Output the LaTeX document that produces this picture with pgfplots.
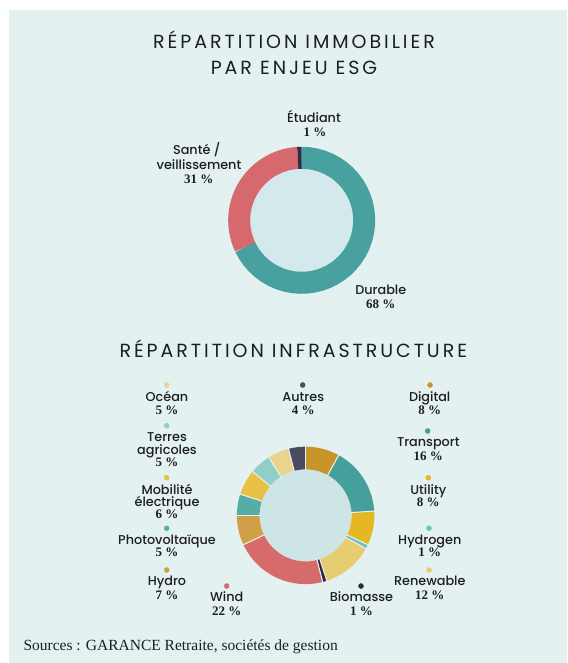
\documentclass[border=0pt]{standalone}
\usepackage{pgfplots}
\pgfplotsset{compat=1.18}
\usepackage{fontspec}
\setmainfont{Poppins}
\IfFontExistsTF{Poppins Medium}{\newfontfamily\labfam{Poppins Medium}}{\newfontfamily\labfam{Poppins}}
\newfontfamily\titfam[LetterSpace=15.5]{Poppins}
\newfontfamily\serfam{Liberation Serif}

\definecolor{bg}{HTML}{E3F1F0}
\definecolor{holeA}{HTML}{D4E9EB}
\definecolor{holeB}{HTML}{CEE5E6}
\definecolor{txt}{HTML}{1E1E1E}
\definecolor{sepc}{HTML}{EEF3EC}
% top donut
\definecolor{cDurable}{HTML}{48A19E}
\definecolor{cSante}{HTML}{D5696D}
\definecolor{cEtud}{HTML}{2E2E4C}
% bottom donut
\definecolor{cDigital}{HTML}{C8952B}
\definecolor{cTransport}{HTML}{45A09C}
\definecolor{cUtility}{HTML}{E5B722}
\definecolor{cHydrogen}{HTML}{6CC3BF}
\definecolor{cRenewable}{HTML}{E8CD70}
\definecolor{cBiomasse}{HTML}{2A2A48}
\definecolor{cWind}{HTML}{D76B6C}
\definecolor{cHydro}{HTML}{CFA048}
\definecolor{cPhoto}{HTML}{56ACA7}
\definecolor{cMobil}{HTML}{E8C043}
\definecolor{cTerres}{HTML}{8FCFC8}
\definecolor{cOcean}{HTML}{E8D38F}
\definecolor{cAutres}{HTML}{4B4B5F}

\newcommand\labfont{\labfam\fontsize{12.8}{14}\selectfont}
\newcommand\pctfont{\serfam\bfseries\fontsize{13}{14}\selectfont}
\newcommand\titfont{\titfam\fontsize{19}{24}\selectfont}
\newcommand\lab[3]{\node[anchor=base,font=\labfont,text=txt,inner sep=0pt] at (axis cs:#1,#2) {#3};}
\newcommand\pct[3]{\node[anchor=base,font=\pctfont,text=txt,inner sep=0pt] at (axis cs:#1,#2) {#3};}
\newcommand\mdot[3]{\addplot[only marks,mark=*,mark size=2.5pt,color=#3] coordinates {(#1,#2)};}

% donut drawing: center x, center y, inner r, outer r, list value/color
\newcommand\donut[5]{%
  \pgfmathsetmacro\Rm{(#3+#4)/2}%
  \pgfmathsetmacro\Rw{#4-#3}%
  \gdef\cum{0}%
  \foreach \v/\c in {#5}{%
    \pgfmathsetmacro\aa{90-3.6*\cum}%
    \pgfmathsetmacro\bb{90-3.6*(\cum+\v)}%
    \edef\doplot{\noexpand\addplot[line width=\Rw pt, color=\c, domain=\bb:\aa, samples=40, variable=\noexpand\t]
      ({#1+\Rm*cos(\noexpand\t)},{#2-\Rm*sin(\noexpand\t)});}%
    \doplot
    \pgfmathsetmacro\newcum{\cum+\v}%
    \xdef\cum{\newcum}%
  }%
}
\newcommand\seps[5]{%
  \gdef\cum{0}%
  \foreach \v in {#5}{%
    \pgfmathsetmacro\aa{90-3.6*\cum}%
    \pgfmathsetmacro\xa{#1+(#3-1)*cos(\aa)}%
    \pgfmathsetmacro\ya{#2-(#3-1)*sin(\aa)}%
    \pgfmathsetmacro\xb{#1+(#4+1)*cos(\aa)}%
    \pgfmathsetmacro\yb{#2-(#4+1)*sin(\aa)}%
    \edef\doplot{\noexpand\addplot[draw=sepc, line width=1pt] coordinates {(\xa,\ya) (\xb,\yb)};}%
    \doplot
    \pgfmathsetmacro\newcum{\cum+\v}%
    \xdef\cum{\newcum}%
  }%
}

\begin{document}
\begin{tikzpicture}
\fill[white] (0,0) rectangle (567pt,663pt);
\fill[bg] (9pt,0) rectangle (567pt,653pt);
\begin{axis}[x=1pt,y=1pt,xmin=0,xmax=567,ymin=0,ymax=663,y dir=reverse,
  hide axis,clip=false,at={(0,663pt)},anchor=north west]

% ---------- titles ----------
\node[anchor=base,font=\titfont,text=txt] at (axis cs:294,48.5) {RÉPARTITION IMMOBILIER};
\node[anchor=base,font=\titfont,text=txt] at (axis cs:294,74.5) {PAR ENJEU ESG};
\node[anchor=base,font=\titfont,text=txt] at (axis cs:293.3,357) {RÉPARTITION INFRASTRUCTURE};

% ---------- top donut ----------
\addplot[fill=holeA, draw=none, domain=0:360, samples=120] ({301.7+51.5*cos(x)},{220.3-51.5*sin(x)});
\donut{301.7}{220.3}{51.5}{73.5}{68/cDurable, 31/cSante, 1/cEtud}

\lab{314}{123}{Étudiant}
\pct{315}{136.7}{1~\%}
\lab{196.7}{154}{Santé /}
\lab{199}{169}{veillissement}
\pct{198.7}{183.3}{31~\%}
\lab{380.8}{294}{Durable}
\pct{380.8}{308.3}{68~\%}

% ---------- bottom donut ----------
\addplot[fill=holeB, draw=none, domain=0:360, samples=120] ({305.6+46*cos(x)},{515.4-46*sin(x)});
\donut{305.6}{515.4}{46}{68.7}{8/cDigital, 16/cTransport, 8/cUtility, 1/cHydrogen, 12/cRenewable, 1/cBiomasse, 22/cWind, 7/cHydro, 5/cPhoto, 6/cMobil, 5/cTerres, 5/cOcean, 4/cAutres}
\seps{305.6}{515.4}{46}{68.7}{8,16,8,1,12,1,22,7,5,6,5,5,4}

% dots
\mdot{166.7}{385}{cOcean}
\mdot{302.7}{385}{cAutres}
\mdot{430}{385}{cDigital}
\mdot{166.7}{425.7}{cTerres}
\mdot{427.7}{431}{cTransport}
\mdot{166.7}{477.7}{cMobil}
\mdot{428.3}{477.7}{cUtility}
\mdot{166.7}{528.3}{cPhoto}
\mdot{429}{528.3}{cHydrogen}
\mdot{166.7}{570}{cHydro}
\mdot{429}{570}{cRenewable}
\mdot{226.7}{586}{cWind}
\mdot{361}{586}{cBiomasse}

% labels
\lab{167}{401.7}{Océan}        \pct{167}{414.3}{5~\%}
\lab{303.3}{401.7}{Autres}     \pct{303.3}{414.3}{4~\%}
\lab{429.7}{401.7}{Digital}    \pct{429.7}{414.3}{8~\%}
\lab{167}{441.7}{Terres}
\lab{167}{454}{agricoles}      \pct{167}{466.7}{5~\%}
\lab{428.3}{446.7}{Transport}  \pct{428.3}{460}{16~\%}
\lab{167}{494}{Mobilité}
\lab{167}{506.7}{électrique}   \pct{167}{518.3}{6~\%}
\lab{428.3}{494}{Utility}      \pct{428.3}{506.7}{8~\%}
\lab{167}{544}{Photovoltaïque} \pct{167}{556.7}{5~\%}
\lab{429.8}{544}{Hydrogen}     \pct{429.8}{556.7}{1~\%}
\lab{167}{585.7}{Hydro}        \pct{167}{599}{7~\%}
\lab{429.8}{585.7}{Renewable}  \pct{429.8}{599}{12~\%}
\lab{226.7}{601.7}{Wind}       \pct{226.7}{615}{22~\%}
\lab{361.5}{601.7}{Biomasse}   \pct{361.5}{615}{1~\%}

% source
\node[anchor=base west,font=\serfam\fontsize{15.5}{18}\selectfont,text=txt,inner sep=0pt] at (axis cs:23.3,650) {Sources : GARANCE Retraite, sociétés de gestion};
\end{axis}
\end{tikzpicture}
\end{document}
